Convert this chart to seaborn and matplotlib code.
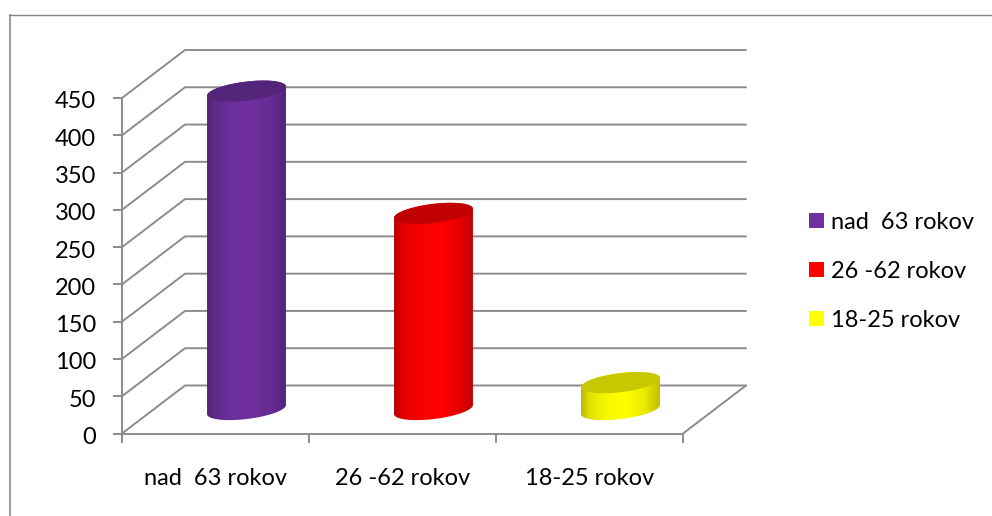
import numpy as np
import pandas as pd
import matplotlib
matplotlib.use('Agg')
import matplotlib.pyplot as plt
import seaborn as sns
from matplotlib.lines import Line2D
from matplotlib.patches import Patch, Polygon
from matplotlib.transforms import ScaledTranslation

# values
categories = ['nad  63 rokov', '26 -62 rokov', '18-25 rokov']
values = [427, 263, 36]
y_ticks = [0, 50, 100, 150, 200, 250, 300, 350, 400, 450]

front_colors = ['#7030A0', '#FF0000', '#FFFF00']
top_colors = ['#54247A', '#C00000', '#C8C800']

W, H = 992, 516
GREY = '#8C8C8C'
FONT_SIZE = 17

sns.set_theme(style='white')
plt.rcParams['font.family'] = ['Lato', 'DejaVu Sans']

df = pd.DataFrame({'group': categories, 'people': values})

fig = plt.figure(figsize=(W / 100, H / 100), dpi=100, facecolor='white')


def pixel_axes(left, top, right, bottom):
    return fig.add_axes([left / W, 1 - bottom / H, (right - left) / W, (bottom - top) / H])


# front plane of the "3D" box
ax = pixel_axes(122, 98, 683, 433.5)
ax.set_xlim(-0.5, 2.5)
ax.set_ylim(0, 450)
ax.patch.set_alpha(0)
x_per_px = 3 / 561
y_per_px = 450 / 335.5

# walls and floor, pushed back by the depth of the box
depth_x = 63 * x_per_px
depth_y = 48 * y_per_px
for v in y_ticks:
    ax.plot([-0.5, -0.5 + depth_x, 2.5 + depth_x], [v, v + depth_y, v + depth_y],
            color=GREY, lw=1.4, clip_on=False, solid_joinstyle='miter', zorder=1)
ax.plot([2.5, 2.5 + depth_x], [0, depth_y], color=GREY, lw=1.4, clip_on=False, zorder=1)

sns.despine(ax=ax, top=True, right=True)
for side in ['left', 'bottom']:
    ax.spines[side].set_color(GREY)
    ax.spines[side].set_linewidth(1.4)

ax.set_yticks(y_ticks)
ax.set_xticks([-0.5, 0.5, 1.5, 2.5])
ax.set_xticklabels([])
ax.set_xticks([0, 1, 2], minor=True)
ax.set_xticklabels(categories, minor=True)
ax.tick_params(axis='y', length=6.5, width=1.4, color=GREY, pad=12, labelsize=FONT_SIZE, left=True, labelcolor='black')
ax.tick_params(axis='x', which='major', length=6.5, width=1.4, color=GREY, bottom=True)
ax.tick_params(axis='x', which='minor', length=0, pad=24.5, labelsize=FONT_SIZE, labelcolor='black')

# labels sit about 2 px lower than the font centres them
nudge = ScaledTranslation(0, -2 / 100, fig.dpi_scale_trans)
for label in ax.get_yticklabels():
    label.set_transform(label.get_transform() + nudge)

# cylinders stand half way into the box, axes runs a bit below zero so the base ring fits
BELOW = 30
ax_bars = pixel_axes(122 + 31, 98 - 24, 683 + 31, 433.5 - 24 + BELOW / y_per_px)
sns.barplot(data=df, x='group', y='people', hue='group', palette=front_colors,
            width=0.425, legend=False, ax=ax_bars)
ax_bars.axis('off')
ax_bars.patch.set_alpha(0)


def ring(xc, yc, half_w, start=0.0, stop=2 * np.pi):
    # tilted ellipse in data units, sized in pixels
    t = np.linspace(start, stop, 80)
    a, b, tilt = half_w / x_per_px, 9.5, np.radians(7)
    px = a * np.cos(t) * np.cos(tilt) - b * np.sin(t) * np.sin(tilt)
    py = a * np.cos(t) * np.sin(tilt) + b * np.sin(t) * np.cos(tilt)
    return np.column_stack([xc + px * x_per_px, yc + py * y_per_px])


shade_x = [0.0, 0.1, 0.3, 0.55, 0.8, 1.0]
shade_y = [0.72, 0.88, 0.97, 1.0, 0.92, 0.74]
for bar, front, top in zip(ax_bars.patches, front_colors, top_colors):
    bar.set_facecolor('none')
    bar.set_edgecolor('none')
    half_w = bar.get_width() / 2
    xc = bar.get_x() + half_w
    height = bar.get_height()

    # body outline: far edge of the top ring, then the near edge of the base ring
    upper = ring(xc, height, half_w, np.pi, 0)
    lower = ring(xc, 0, half_w, 2 * np.pi, np.pi)
    body = Polygon(np.vstack([upper, lower]), closed=True, facecolor='none', edgecolor='none',
                   clip_on=False)
    ax_bars.add_patch(body)

    u = np.linspace(0, 1, 80)
    shade = np.interp(u, shade_x, shade_y)
    rgb = np.array(matplotlib.colors.to_rgb(front))
    img = ax_bars.imshow((shade[:, None] * rgb)[None, :, :], aspect='auto', interpolation='bilinear',
                         extent=[xc - half_w, xc + half_w, -BELOW, height + 30], zorder=3)
    img.set_clip_path(body)

    ax_bars.add_patch(Polygon(ring(xc, height, half_w), closed=True, facecolor=top,
                              edgecolor='none', zorder=4, clip_on=False))

ax_bars.set_xlim(-0.5, 2.5)
ax_bars.set_ylim(-BELOW, 450)

# legend
handles = [Patch(facecolor=c, edgecolor='none') for c in front_colors]
fig.legend(handles, categories, loc='upper left', bbox_to_anchor=(809 / W, 1 - 212 / H),
           frameon=False, fontsize=FONT_SIZE, handlelength=0.635, handleheight=0.6,
           handletextpad=0.3, labelspacing=1.18, borderpad=0, borderaxespad=0, labelcolor='black')

# outer chart frame, only left and top show
fig.add_artist(Line2D([10 / W, 10 / W], [0, 1 - 14.5 / H], color='#A0A0A0', lw=1.5))
fig.add_artist(Line2D([9 / W, 1], [1 - 14.5 / H, 1 - 14.5 / H], color='#858585', lw=1))

fig.savefig('out.png', dpi=100)
